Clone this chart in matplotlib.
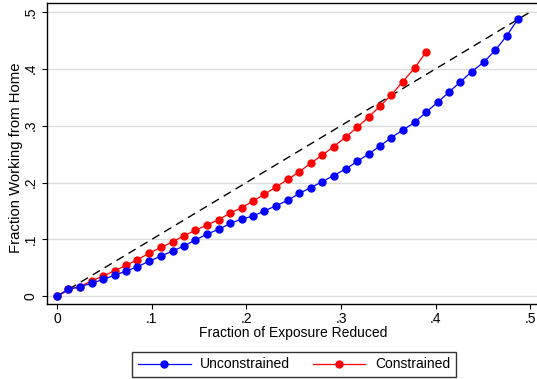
import matplotlib
matplotlib.use("Agg")
import matplotlib.pyplot as plt
from matplotlib.lines import Line2D

plt.rcParams["font.family"] = ["Liberation Sans", "DejaVu Sans"]

# fraction of exposure reduced (x) and fraction working from home (y)
x_unc = [0.000, 0.012, 0.024, 0.037, 0.049, 0.061, 0.073, 0.085, 0.097, 0.110,
         0.122, 0.134, 0.146, 0.158, 0.171, 0.183, 0.195, 0.207, 0.219, 0.231,
         0.244, 0.256, 0.268, 0.280, 0.292, 0.305, 0.317, 0.329, 0.341, 0.353,
         0.365, 0.378, 0.390, 0.402, 0.414, 0.426, 0.438, 0.451, 0.463, 0.475,
         0.487]
y_unc = [0.000, 0.012, 0.017, 0.023, 0.030, 0.037, 0.0445, 0.052, 0.0615, 0.0708,
         0.0796, 0.0884, 0.099, 0.109, 0.118, 0.128, 0.136, 0.141, 0.150, 0.159,
         0.169, 0.181, 0.191, 0.2015, 0.212, 0.224, 0.237, 0.250, 0.264, 0.279,
         0.292, 0.306, 0.324, 0.341, 0.359, 0.377, 0.395, 0.412, 0.433, 0.458,
         0.488]
x_con = x_unc[:33]
y_con = [0.000, 0.012, 0.017, 0.0275, 0.0357, 0.045, 0.0545, 0.0644, 0.0756, 0.086,
         0.0954, 0.1065, 0.116, 0.125, 0.135, 0.1464, 0.1557, 0.1675, 0.179, 0.192,
         0.2056, 0.219, 0.234, 0.248, 0.263, 0.280, 0.297, 0.315, 0.334, 0.354,
         0.377, 0.402, 0.430]
diag = [0.0, 0.5]

ticks = [0, 0.1, 0.2, 0.3, 0.4, 0.5]
tick_labels = ["0", ".1", ".2", ".3", ".4", ".5"]

W, H = 537, 379
fig = plt.figure(figsize=(W / 100, H / 100), dpi=100)
ax = fig.add_axes([47 / W, 1 - 304 / H, 494 / W, 301 / H])

ax.plot(diag, diag, color="black", lw=1.0, dashes=(6, 4), zorder=2)
ax.plot(x_con, y_con, color="#ff0000", lw=0.9, marker="o", ms=5,
        mec="#ff0000", zorder=3)
ax.plot(x_unc, y_unc, color="#0000ff", lw=0.9, marker="o", ms=5,
        mec="#0000ff", zorder=4)

ax.set_xlim(-0.01056, 0.5111)
ax.set_ylim(-0.0135, 0.5155)
ax.set_xticks(ticks)
ax.set_xticklabels(tick_labels)
ax.set_yticks(ticks)
ax.set_yticklabels(tick_labels, rotation=90, va="center")
ax.yaxis.grid(True, color="#dcdcdc", lw=1.0)
ax.set_axisbelow(True)
ax.tick_params(direction="out", length=3.6, width=0.8, labelsize=10)
ax.tick_params(axis="x", pad=2.5)
ax.tick_params(axis="y", pad=3)
for s in ax.spines.values():
    s.set_linewidth(1.0)

fig.text(293 / W, 1 - 333 / H, "Fraction of Exposure Reduced", fontsize=10,
         ha="center", va="center")
fig.text(16 / W, 1 - 158 / H, "Fraction Working from Home", fontsize=10.7,
         ha="center", va="center", rotation=90)

handles = [Line2D([], [], color="#0000ff", lw=0.9, marker="o", ms=5),
           Line2D([], [], color="#ff0000", lw=0.9, marker="o", ms=5)]
leg = fig.legend(handles, ["Unconstrained", "Constrained"], ncol=2,
                 loc="center", bbox_to_anchor=(294 / W, 1 - 364.5 / H),
                 fontsize=10, frameon=True, fancybox=False, edgecolor="black",
                 handlelength=3.8, handletextpad=0.7, columnspacing=1.6,
                 borderpad=0.4)
leg.get_frame().set_linewidth(1.0)

fig.savefig("out.png", dpi=100)
